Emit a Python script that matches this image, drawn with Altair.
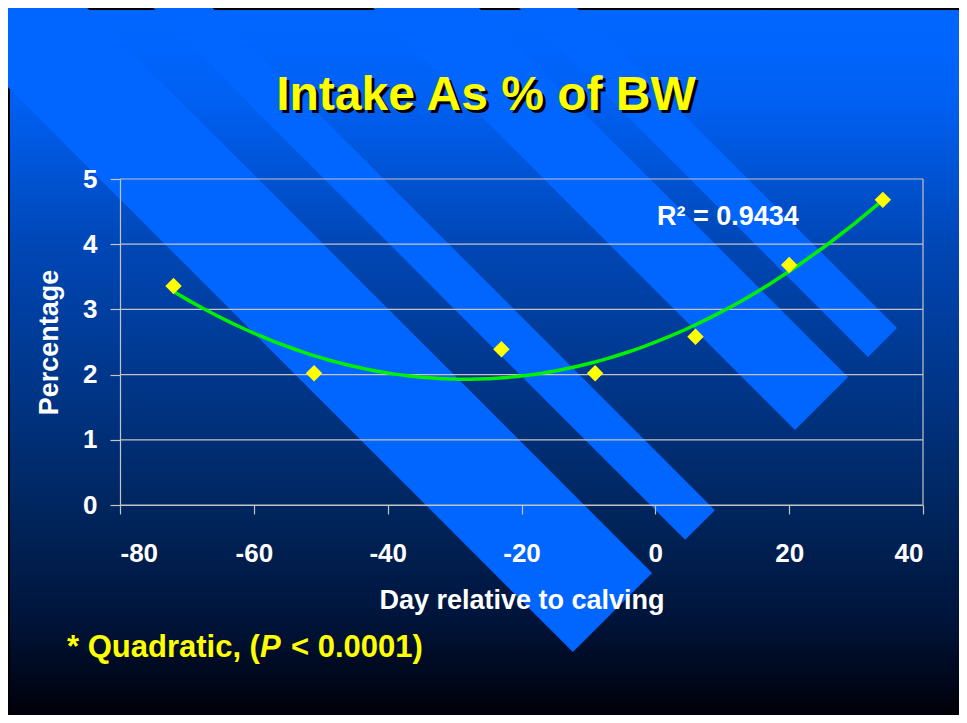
import altair as alt
import pandas as pd

# ---- data ----
days = [-72, -51, -23, -9, 6, 20, 34]
pct = [3.36, 2.02, 2.39, 2.02, 2.58, 3.68, 4.68]
x_ticks = [-80, -60, -40, -20, 0, 20, 40]
y_ticks = [0, 1, 2, 3, 4, 5]
title_text = "Intake As % of BW"
x_title = "Day relative to calving"
y_title = "Percentage"
r2_text = "R² = 0.9434"
note_parts = ["* Quadratic, (", "P", "< 0.0001)"]

df = pd.DataFrame({"Day": days, "Percentage": pct})
grid_df = pd.DataFrame({"Percentage": y_ticks})
one = pd.DataFrame({"k": [0]})

W, H = 803, 326
FONT = "Liberation Sans"

xs = alt.Scale(domain=[-80, 40], nice=False, zero=False)
ys = alt.Scale(domain=[0, 5], nice=False, zero=True)

x_axis = alt.Axis(
    values=x_ticks, title=x_title, grid=False, zindex=1, tickSize=9, labelPadding=26,
    labelExpr="toString(datum.value)",
    titleX=W / 2, titleY=103, titleBaseline="alphabetic", titleAlign="center",
)
y_axis = alt.Axis(
    values=y_ticks, title=y_title, grid=False, zindex=1, tickSize=10, labelPadding=13,
    labelExpr="toString(datum.value)",
    titleX=-63, titleY=H / 2, titleAngle=270, titleBaseline="alphabetic", titleAlign="center",
)

X = alt.X("Day:Q", scale=xs, axis=x_axis)
Y = alt.Y("Percentage:Q", scale=ys, axis=y_axis)

# ---- slide decoration ----
gradient = alt.LinearGradient(
    gradient="linear", x1=0, x2=0, y1=0, y2=1,
    stops=[
        alt.GradientStop(offset=0.0, color="#0066ff"),
        alt.GradientStop(offset=0.06, color="#0065fc"),
        alt.GradientStop(offset=0.14, color="#005ff0"),
        alt.GradientStop(offset=0.22, color="#0055d8"),
        alt.GradientStop(offset=0.342, color="#0046b4"),
        alt.GradientStop(offset=0.554, color="#003484"),
        alt.GradientStop(offset=0.724, color="#00245a"),
        alt.GradientStop(offset=0.866, color="#00143a"),
        alt.GradientStop(offset=1.0, color="#000008"),
    ],
)
bg = alt.Chart(one).mark_rect(fill=gradient).encode(
    x=alt.value(-112), x2=alt.value(839), y=alt.value(-171), y2=alt.value(536)
)
frame_top = alt.Chart(one).mark_rect(color="black").encode(
    x=alt.value(-112), x2=alt.value(839), y=alt.value(-171), y2=alt.value(-169)
)
frame_left = alt.Chart(one).mark_rect(color="black").encode(
    x=alt.value(-112), x2=alt.value(-110), y=alt.value(-171), y2=alt.value(536)
)

# diagonal bands: (x start, y start, x end, y end, width) in plot pixels
bands_geom = [
    (-320, -379, 492.5, 433.5, 112),
    (-232.5, -466.5, 580, 346, 42),
    (-111, -588, 701.5, 224.5, 75),
    (-50, -649, 762.5, 163.5, 41),
]
bands = [
    alt.Chart(one).mark_rule(color="#0066ff", strokeWidth=w, strokeCap="butt").encode(
        x=alt.value(a), y=alt.value(b), x2=alt.value(c), y2=alt.value(d)
    )
    for a, b, c, d, w in bands_geom
]

grid = alt.Chart(grid_df).mark_rule(color="#c4c4c4", strokeWidth=1.2).encode(y=Y)
right_frame = alt.Chart(one).mark_rule(color="#c4c4c4", strokeWidth=1.2).encode(
    x=alt.value(W), y=alt.value(0), y2=alt.value(H)
)

curve = (
    alt.Chart(df)
    .transform_regression("Day", "Percentage", method="poly", order=2)
    .mark_line(color="#00f000", strokeWidth=3.5)
    .encode(x=X, y=Y)
)
points = alt.Chart(df).mark_point(
    shape="diamond", filled=True, color="#ffff00", size=270, opacity=1
).encode(x=X, y=Y)

r2 = alt.Chart(one).mark_text(
    text=r2_text, font=FONT, fontWeight="bold", fontSize=27, color="white",
    align="left", baseline="alphabetic",
).encode(x=alt.value(537), y=alt.value(46))

title_shadow = alt.Chart(one).mark_text(
    text=title_text, font=FONT, fontWeight="bold", fontSize=48, color="black",
    align="center", baseline="alphabetic",
).encode(x=alt.value(369), y=alt.value(-66))
title = alt.Chart(one).mark_text(
    text=title_text, font=FONT, fontWeight="bold", fontSize=48, color="#ffff00",
    align="center", baseline="alphabetic",
).encode(x=alt.value(366), y=alt.value(-69))

note_x = [-53, 140, 171]
note_styles = ["normal", "italic", "normal"]
notes = [
    alt.Chart(one).mark_text(
        text=t, font=FONT, fontWeight="bold", fontStyle=s, fontSize=31, color="#ffff00",
        align="left", baseline="alphabetic",
    ).encode(x=alt.value(nx), y=alt.value(478))
    for t, s, nx in zip(note_parts, note_styles, note_x)
]

chart = (
    alt.layer(
        bg, frame_top, frame_left, *bands, grid, right_frame, curve, points, r2,
        title_shadow, title, *notes,
    )
    .properties(
        width=W, height=H,
        autosize=alt.AutoSizeParams(type="none"),
        padding={"left": 112, "top": 171, "right": 36, "bottom": 210},
        background="#000000",
    )
    .configure_view(strokeWidth=0)
    .configure_axis(
        labelFont=FONT, labelFontWeight="bold", labelFontSize=26, labelColor="white",
        titleFont=FONT, titleFontWeight="bold", titleFontSize=27, titleColor="white",
        domainColor="#c4c4c4", domainWidth=1.2, tickColor="#c4c4c4", tickWidth=1.2,
    )
)

chart.save("out.html", embed_options={"renderer": "svg", "actions": False})
